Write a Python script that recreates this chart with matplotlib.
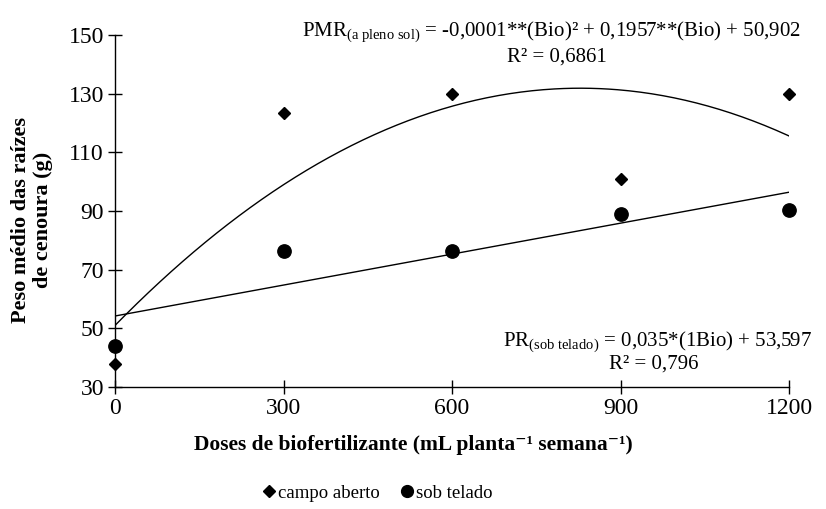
import matplotlib
matplotlib.use('Agg')
import matplotlib.pyplot as plt
from matplotlib.lines import Line2D
import numpy as np

plt.rcParams.update({
    'font.family': ['Liberation Serif', 'DejaVu Serif'],
    'font.size': 14,
    'mathtext.fontset': 'custom',
    'mathtext.rm': 'Liberation Serif',
    'mathtext.it': 'Liberation Serif:italic',
    'mathtext.bf': 'Liberation Serif:bold',
})

# Doses (mL planta-1 semana-1) e peso médio das raízes (g)
doses = [0, 300, 600, 900, 1200]
campo_aberto = [38, 123.5, 130, 101, 130]
sob_telado = [44, 76.5, 76.5, 89, 90.5]

x_ticks = [0, 300, 600, 900, 1200]
y_ticks = [30, 50, 70, 90, 110, 130, 150]

fig = plt.figure(figsize=(8.26, 5.09), dpi=100)
ax = fig.add_axes([115 / 826, 1 - 387 / 509, (789 - 115) / 826, (387 - 35) / 509])

# Ajustes de tendência (quadrático a pleno sol, linear sob telado)
xs = np.linspace(0, 1200, 300)
coef_q = np.polyfit(doses, campo_aberto, 2)
coef_l = np.polyfit(doses, sob_telado, 1)
ax.plot(xs, np.polyval(coef_q, xs), color='black', lw=1.0, zorder=2)
ax.plot(xs, np.polyval(coef_l, xs), color='black', lw=1.0, zorder=2)

ax.plot(doses, campo_aberto, 'D', color='black', ms=6.6, clip_on=False, zorder=3)
ax.plot(doses, sob_telado, 'o', color='black', ms=9.6, clip_on=False, zorder=3)

ax.set_xlim(0, 1200)
ax.set_ylim(30, 150)
ax.set_xticks(x_ticks)
ax.set_yticks(y_ticks)
for side in ['top', 'right']:
    ax.spines[side].set_visible(False)
for side in ['left', 'bottom']:
    ax.spines[side].set_linewidth(1.0)
ax.tick_params(direction='inout', length=10, width=1.0, labelsize=17, pad=3)

# Equações
ax.text(302 / 826, 1 - 32 / 509,
        r'PMR$_{\mathrm{(a\ pleno\ sol)}}$ = -0,0001**(Bio)² + 0,1957**(Bio) + 50,902',
        transform=fig.transFigure, ha='left', va='center', fontsize=15)
ax.text(557 / 826, 1 - 57 / 509, 'R² = 0,6861',
        transform=fig.transFigure, ha='center', va='center', fontsize=15)
ax.text(812 / 826, 1 - 342 / 509,
        r'PR$_{\mathrm{(sob\ telado)}}$ = 0,035*(1Bio) + 53,597',
        transform=fig.transFigure, ha='right', va='center', fontsize=15)
ax.text(654 / 826, 1 - 364 / 509, 'R² = 0,796',
        transform=fig.transFigure, ha='center', va='center', fontsize=15)

fig.text(32 / 826, 1 - 220 / 509, 'Peso médio das raízes\nde cenoura (g)',
         rotation=90, ha='center', va='center', multialignment='center',
         fontsize=16, fontweight='bold', linespacing=1.1)
fig.text(413 / 826, 1 - 445 / 509,
         'Doses de biofertilizante (mL planta⁻¹ semana⁻¹)',
         ha='center', va='center', fontsize=15.5, fontweight='bold')

handles = [
    Line2D([], [], marker='D', color='black', ls='none', ms=6),
    Line2D([], [], marker='o', color='black', ls='none', ms=8.5),
]
fig.legend(handles, ['campo aberto', 'sob telado'], loc='center',
           bbox_to_anchor=(377 / 826, 1 - 493 / 509), ncol=2, frameon=False,
           fontsize=13.5, handlelength=0.8, handletextpad=0.1, columnspacing=1.0)

fig.savefig('out.png', dpi=100)
